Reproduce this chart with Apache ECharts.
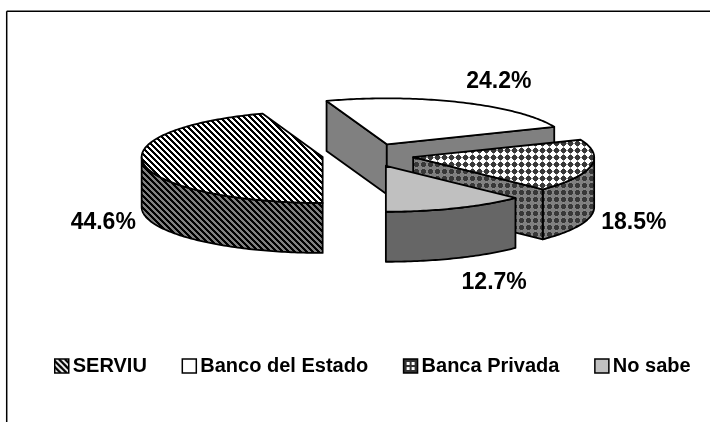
<!DOCTYPE html>
<html>
<head>
<meta charset="utf-8">
<script src="https://cdn.jsdelivr.net/npm/echarts@6/dist/echarts.min.js"></script>
<style>html,body{margin:0;padding:0;background:#fff}#c{width:710px;height:422px}</style>
</head>
<body>
<div id="c"></div>
<script>
const categories = ['SERVIU', 'Banco del Estado', 'Banca Privada', 'No sabe'];
const shares = [44.6, 24.2, 18.5, 12.7];

// Pie layout
const CX = 368, CY = 155, RX = 181, RY = 46, DEPTH = 50, EXPLODE = 46, START = 180;
const LABEL_FONT = 'bold 23px "Liberation Sans", Arial, sans-serif';
const labelShift = [[-41, 58], [38, -21], [43, 57], [38, 75]];
const paintOrder = [1, 0, 2, 3];

function tile(size, bg, paint) {
  const c = document.createElement('canvas');
  c.width = c.height = size;
  const g = c.getContext('2d');
  g.fillStyle = bg; g.fillRect(0, 0, size, size);
  paint(g);
  return { image: c, repeat: 'repeat' };
}
function stripes(bg) {
  return tile(6, bg, g => {
    g.fillStyle = '#000';
    for (let y = 0; y < 6; y++) for (let x = 0; x < 6; x++)
      if (((x - y) % 6 + 6) % 6 < 3) g.fillRect(x, y, 1, 1);
  });
}
function dots(bg) {
  return tile(7, bg, g => {
    g.fillStyle = '#8a8a8a';
    g.fillRect(3, 0, 1, 7);
    g.fillRect(0, 3, 7, 1);
    g.fillStyle = '#383838';
    g.fillRect(2, 1, 3, 5);
    g.fillRect(1, 2, 5, 3);
  });
}
const topFills = [stripes('#fff'), '#fff', dots('#fff'), '#c0c0c0'];
const sideFills = [stripes('#808080'), '#808080', dots('#808080'), '#666666'];
const legendFills = [tile(14, '#fff', g => {
  g.strokeStyle = '#000'; g.lineWidth = 2.4;
  for (let i = -14; i <= 14; i += 6) { g.beginPath(); g.moveTo(i, 0); g.lineTo(i + 14, 14); g.stroke(); }
}), '#fff', tile(14, '#333', g => {
  g.fillStyle = '#fff';
  [[3, 3], [8, 3], [3, 8], [8, 8]].forEach(p => g.fillRect(p[0], p[1], 3, 3));
}), '#c0c0c0'];

const rad = d => d * Math.PI / 180;
let cum = START;
const spans = shares.map(v => { const a = cum; cum += v * 3.6; return [a, cum]; });

function rim(apex, deg, dz) {
  return [apex[0] + RX * Math.sin(rad(deg)), apex[1] - RY * Math.cos(rad(deg)) + (dz || 0)];
}
function arc(apex, a, b, dz) {
  const pts = [], n = Math.max(2, Math.ceil(Math.abs(b - a)));
  for (let i = 0; i <= n; i++) pts.push(rim(apex, a + (b - a) * i / n, dz));
  return pts;
}
const line = { stroke: '#000', lineWidth: 1.8, lineJoin: 'round' };

function renderSlice(idx) {
  return function (params, api) {
    const [a, b] = spans[idx], mid = (a + b) / 2;
    const apex = [CX + EXPLODE * Math.sin(rad(mid)), CY - EXPLODE * 0.254 * Math.cos(rad(mid))];
    const kids = [];
    const poly = (points, fill) => kids.push({ type: 'polygon', shape: { points }, style: Object.assign({ fill }, line) });
    // outer wall: the parts of the rim that face the viewer
    [[90, 270], [450, 630]].forEach(w => {
      const lo = Math.max(a, w[0]), hi = Math.min(b, w[1]);
      if (hi > lo) poly(arc(apex, lo, hi, 0).concat(arc(apex, hi, lo, DEPTH)), sideFills[idx]);
    });
    // cut faces
    const face = d => {
      const r = rim(apex, d, 0);
      poly([apex, r, [r[0], r[1] + DEPTH], [apex[0], apex[1] + DEPTH]], sideFills[idx]);
    };
    if (Math.sin(rad(a)) < -1e-6) face(a);
    if (Math.sin(rad(b)) > 1e-6) face(b);
    // top
    poly([apex].concat(arc(apex, a, b, 0)), topFills[idx]);
    // value label
    const r = rim(apex, mid, 0), s = labelShift[idx];
    kids.push({
      type: 'text', z2: 50,
      style: {
        x: r[0] + s[0], y: r[1] + s[1],
        text: api.value(0).toFixed(1) + '%',
        font: LABEL_FONT, fill: '#000', align: 'center', verticalAlign: 'middle'
      }
    });
    return { type: 'group', children: kids };
  };
}

const chart = echarts.init(document.getElementById('c'), null, { renderer: 'canvas' });
chart.setOption({
  animation: false,
  backgroundColor: '#fff',
  legend: {
    left: 49, top: 351,
    itemWidth: 14, itemHeight: 14, itemGap: 34.7,
    icon: 'rect',
    selectedMode: false,
    textStyle: { fontFamily: '"Liberation Sans"', fontWeight: 'bold', fontSize: 20, color: '#000', padding: [0, 0, 0, -1] },
    data: categories.map((name, i) => ({
      name,
      icon: 'rect',
      itemStyle: { color: legendFills[i], borderColor: '#000', borderWidth: 1.5 }
    }))
  },
  graphic: [
    { type: 'line', shape: { x1: 6.7, y1: 11.3, x2: 710, y2: 11.3 }, style: { stroke: '#000', lineWidth: 1.5 } },
    { type: 'line', shape: { x1: 6.7, y1: 11.3, x2: 6.7, y2: 422 }, style: { stroke: '#000', lineWidth: 1.5 } }
  ],
  series: paintOrder.map((i, order) => ({
    type: 'custom',
    name: categories[i],
    coordinateSystem: 'none',
    z: 2 + order,
    silent: true,
    data: [[shares[i]]],
    renderItem: renderSlice(i)
  }))
});
</script>
</body>
</html>
